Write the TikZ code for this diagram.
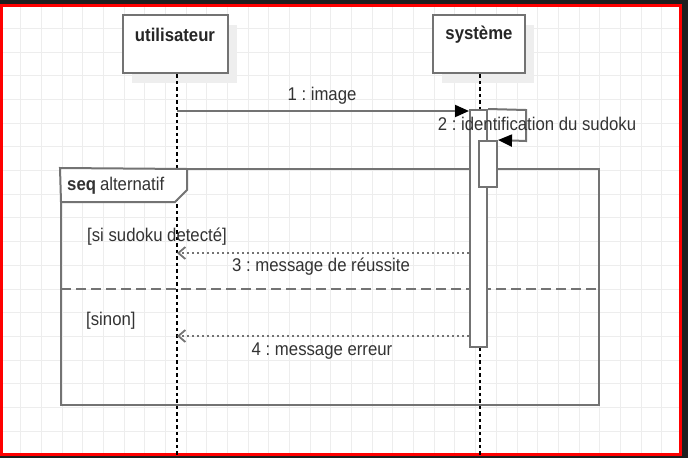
\documentclass[tikz,border=0pt]{standalone}
\usepackage{fontspec}
\setmainfont{Liberation Sans}[FakeStretch=0.91]
\usetikzlibrary{arrows.meta}
\frenchspacing
\definecolor{strokec}{HTML}{737373}
\definecolor{gridc}{HTML}{EDEDED}
\definecolor{txt}{HTML}{333333}
\definecolor{darkbg}{HTML}{1E1E1E}
\definecolor{shadowc}{HTML}{EEEEEE}
\begin{document}
\frenchspacing
\begin{tikzpicture}[x=1pt,y=-1pt,
  lbl/.style={font=\fontsize{18.4}{20}\selectfont, text=txt, inner sep=0pt},
  actor/.style={draw=strokec, line width=2.5pt, fill=white, minimum width=105pt, minimum height=58pt, inner sep=0pt},
  actbar/.style={draw=strokec, line width=2pt, fill=white, inner sep=0pt},
  lifeline/.style={black, line width=1.2pt, dash pattern=on 3.5pt off 3pt},
  msg/.style={strokec, line width=2pt, -{Triangle[length=14pt,width=12pt,black]}},
  ret/.style={strokec, line width=2pt, dash pattern=on 2pt off 3pt, -{Straight Barb[length=7pt,width=12pt,line width=1.8pt]}},
]
\useasboundingbox (0,0) rectangle (688,458);
% dark surround and white canvas
\fill[darkbg] (0,0) rectangle (688,458);
\fill[white] (1.5,5) rectangle (680.5,454);
% grid
\begin{scope}
\clip (1.5,5) rectangle (680.5,454);
\foreach \k in {0,...,32} \draw[gridc, line width=1pt] ({20.7+20.68*\k},0) -- ++(0,458);
\foreach \k in {0,...,19} \draw[gridc, line width=1pt] (0,{4.6+23.7*\k}) -- ++(688,0);
\end{scope}
\draw[red, line width=3pt] (1.5,5) rectangle (680.5,454);

% shadows and actor boxes
\fill[shadowc] (132,25) rectangle (237,83);
\fill[shadowc] (442,25) rectangle (534,83);
\node[actor] (U) at (175.5,44) {};
\node[actor, minimum width=92pt] (S) at (479.2,44) {};
\node[lbl, font=\fontsize{18.4}{20}\selectfont\bfseries, text=black!85] (Ut) at (175,35) {utilisateur};
\node[lbl, font=\fontsize{18.4}{20}\selectfont\bfseries, text=black!85] (St) at (479,35) {système};

% lifelines
\coordinate (Uend) at (177,455);
\coordinate (Send) at (480,455);
\draw[lifeline] (U.south -| Uend) -- (Uend);
\draw[lifeline] (S.south -| Send) -- (Send);

% combined fragment
\node[draw=strokec, line width=2pt, minimum width=538pt, minimum height=236pt, inner sep=0pt] (F) at (330,287) {};
\draw[strokec, line width=2pt, fill=white] (F.north west) -- (187,169) -- (187,190) -- (175,202) -- (61,202) -- cycle;
\node[lbl, anchor=west] (Ft) at (67,186) {\textbf{seq}\hspace{4pt}alternatif};
\coordinate (sepL) at (61,289);
\coordinate (sepR) at (599,289);
\draw[strokec, line width=2.5pt, dash pattern=on 10pt off 5pt] (sepL) -- (sepR);
\node[lbl, anchor=west] (g1) at (87,237) {[si sudoku detecté]};
\node[lbl, anchor=west] (g2) at (86,321) {[sinon]};

% activation bars
\node[actbar, minimum width=17pt, minimum height=237pt] (A) at (478.5,228.5) {};
\node[actbar, minimum width=18pt, minimum height=46pt] (B) at (488,164) {};

% messages
\coordinate (m1) at (177,111);
\draw[msg] (m1) -- (A.west |- m1);
\node[lbl] (l1) at (322,96) {1 : image};

\coordinate (sl1) at (526,110);
\coordinate (sl2) at (526,141);
\draw[msg] (A.north east) -- (sl1) -- (sl2) -- (B.north east);
\node[lbl] (l2) at (537,124) {2 : identification du sudoku};

\coordinate (m3) at (177,253);
\draw[ret] (A.west |- m3) -- (m3);
\node[lbl] (l3) at (321,267) {3 : message de réussite};

\coordinate (m4) at (177,336);
\draw[ret] (A.west |- m4) -- (m4);
\node[lbl] (l4) at (322,351) {4 : message erreur};
\end{tikzpicture}
\end{document}
